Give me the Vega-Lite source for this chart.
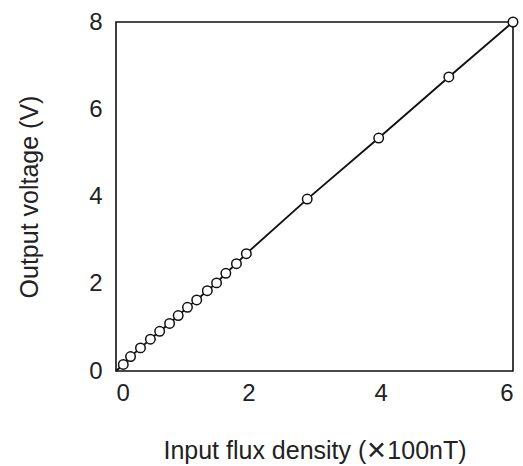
{
  "$schema": "https://vega.github.io/schema/vega-lite/v6.json",
  "width": 397,
  "height": 349,
  "autosize": "none",
  "padding": {"left": 116, "top": 22, "right": 10, "bottom": 95},
  "background": "white",
  "config": {
    "view": {"stroke": "#111", "strokeWidth": 1.6},
    "font": "Liberation Sans",
    "axis": {
      "grid": false,
      "domain": false,
      "ticks": false,
      "labelFont": "Liberation Sans",
      "titleFont": "Liberation Sans",
      "labelFontSize": 24,
      "titleFontSize": 25,
      "titleFontWeight": "normal",
      "labelColor": "#222",
      "titleColor": "#222"
    }
  },
  "data": {
    "values": [
      {"x": 0, "y": 0},
      {"x": 0.11, "y": 0.15},
      {"x": 0.22, "y": 0.33},
      {"x": 0.37, "y": 0.53},
      {"x": 0.52, "y": 0.73},
      {"x": 0.66, "y": 0.91},
      {"x": 0.81, "y": 1.09},
      {"x": 0.94, "y": 1.27},
      {"x": 1.08, "y": 1.46},
      {"x": 1.22, "y": 1.63},
      {"x": 1.38, "y": 1.84},
      {"x": 1.52, "y": 2.02},
      {"x": 1.66, "y": 2.24},
      {"x": 1.82, "y": 2.46},
      {"x": 1.97, "y": 2.69},
      {"x": 2.89, "y": 3.94},
      {"x": 3.97, "y": 5.34},
      {"x": 5.03, "y": 6.74},
      {"x": 6.0, "y": 8.0}
    ]
  },
  "encoding": {
    "x": {
      "field": "x",
      "type": "quantitative",
      "scale": {"domain": [0, 6], "nice": false, "zero": false},
      "axis": {"values": [0, 2, 4, 6], "labelPadding": 10, "title": "Input flux density (✕100nT)", "titlePadding": 33}
    },
    "y": {
      "field": "y",
      "type": "quantitative",
      "scale": {"domain": [0, 8], "nice": false},
      "axis": {"values": [0, 2, 4, 6, 8], "labelPadding": 14, "title": "Output voltage (V)", "titlePadding": 46}
    }
  },
  "layer": [
    {
      "mark": {"type": "line", "color": "#111", "strokeWidth": 1.9, "clip": false}
    },
    {
      "transform": [{"filter": "datum.x > 0"}],
      "mark": {"type": "point", "shape": "circle", "filled": true, "fill": "white", "stroke": "#111", "strokeWidth": 1.5, "size": 90, "opacity": 1, "clip": false}
    }
  ]
}
